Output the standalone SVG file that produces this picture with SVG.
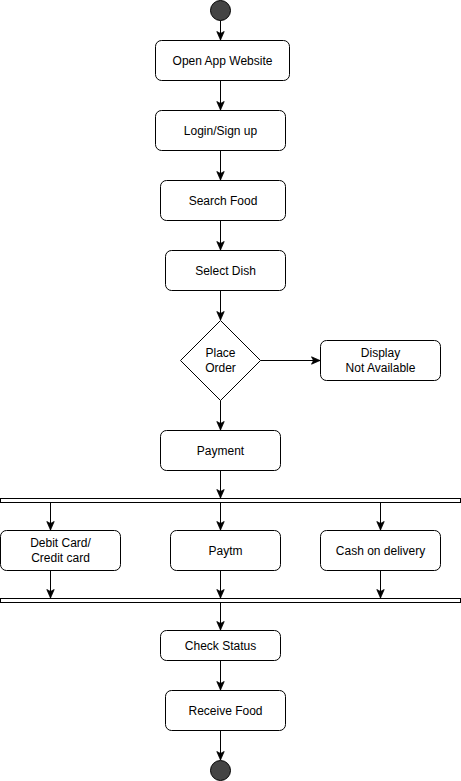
<svg xmlns="http://www.w3.org/2000/svg" width="461" height="781" viewBox="0 0 461 781">
<style>
.box{fill:#ffffff;stroke:#000000;stroke-width:1}
.lbl{font-family:"Liberation Sans",Arial,sans-serif;font-size:12px;fill:#000000;text-anchor:middle}
.edge{stroke:#000000;stroke-width:1;fill:none}
.dot{fill:#444444;stroke:#000000;stroke-width:1}
.bar{fill:#ffffff;stroke:#000000;stroke-width:1}
</style>
<defs>
<marker id="arr" markerUnits="userSpaceOnUse" markerWidth="10" markerHeight="10" viewBox="0 0 10 10" refX="9.5" refY="5" orient="auto">
<path d="M1,1.3 L9.5,5 L1,8.7 L3,5 z" fill="#000000" stroke="#000000" stroke-width="0.8"/>
</marker>
</defs>
<rect width="461" height="781" fill="#ffffff"/>
<g id="start"><circle class="dot" cx="220.5" cy="10.5" r="10"/></g>
<g id="open"><rect class="box" x="155.5" y="40.5" width="134" height="40" rx="6"/><text class="lbl" x="222.5" y="64.5">Open App Website</text></g>
<g id="login"><rect class="box" x="155.5" y="110.5" width="130" height="40" rx="6"/><text class="lbl" x="220.5" y="134.5">Login/Sign up</text></g>
<g id="search"><rect class="box" x="160.5" y="180.5" width="125" height="40" rx="6"/><text class="lbl" x="223" y="204.5">Search Food</text></g>
<g id="select"><rect class="box" x="165.5" y="250.5" width="120" height="40" rx="6"/><text class="lbl" x="225.5" y="274.5">Select Dish</text></g>
<g id="place"><polygon class="box" points="220.5,320.5 260.5,360.5 220.5,400.5 180.5,360.5"/><text class="lbl" x="220.5" y="357">Place</text><text class="lbl" x="220.5" y="372">Order</text></g>
<g id="display"><rect class="box" x="320.5" y="340.5" width="120" height="40" rx="6"/><text class="lbl" x="380.5" y="357">Display</text><text class="lbl" x="380.5" y="372">Not Available</text></g>
<g id="payment"><rect class="box" x="160.5" y="430.5" width="120" height="40" rx="6"/><text class="lbl" x="220.5" y="454.5">Payment</text></g>
<g id="fork"><rect class="bar" x="0.5" y="498.5" width="460" height="4"/></g>
<g id="debit"><rect class="box" x="0.5" y="530.5" width="120" height="40" rx="6"/><text class="lbl" x="60.5" y="547">Debit Card/</text><text class="lbl" x="60.5" y="562">Credit card</text></g>
<g id="paytm"><rect class="box" x="170.5" y="530.5" width="110" height="40" rx="6"/><text class="lbl" x="225.5" y="554.5">Paytm</text></g>
<g id="cash"><rect class="box" x="320.5" y="530.5" width="120" height="40" rx="6"/><text class="lbl" x="380.5" y="554.5">Cash on delivery</text></g>
<g id="join"><rect class="bar" x="0.5" y="598.5" width="460" height="4"/></g>
<g id="check"><rect class="box" x="160.5" y="630.5" width="120" height="30" rx="6"/><text class="lbl" x="220.5" y="649.5">Check Status</text></g>
<g id="receive"><rect class="box" x="165.5" y="690.5" width="120" height="40" rx="6"/><text class="lbl" x="225.5" y="714.5">Receive Food</text></g>
<g id="end"><circle class="dot" cx="220.5" cy="770.5" r="10"/></g>
<g id="connectors">
<line class="edge" x1="220.5" y1="20.5" x2="220.5" y2="40" marker-end="url(#arr)"/>
<line class="edge" x1="220.5" y1="80.5" x2="220.5" y2="110" marker-end="url(#arr)"/>
<line class="edge" x1="220.5" y1="150.5" x2="220.5" y2="180" marker-end="url(#arr)"/>
<line class="edge" x1="220.5" y1="220.5" x2="220.5" y2="250" marker-end="url(#arr)"/>
<line class="edge" x1="220.5" y1="290.5" x2="220.5" y2="320" marker-end="url(#arr)"/>
<line class="edge" x1="260.5" y1="360.5" x2="320" y2="360.5" marker-end="url(#arr)"/>
<line class="edge" x1="220.5" y1="400.5" x2="220.5" y2="430" marker-end="url(#arr)"/>
<line class="edge" x1="220.5" y1="470.5" x2="220.5" y2="498" marker-end="url(#arr)"/>
<line class="edge" x1="50.5" y1="502.5" x2="50.5" y2="530" marker-end="url(#arr)"/>
<line class="edge" x1="220.5" y1="502.5" x2="220.5" y2="530" marker-end="url(#arr)"/>
<line class="edge" x1="380.5" y1="502.5" x2="380.5" y2="530" marker-end="url(#arr)"/>
<line class="edge" x1="50.5" y1="570.5" x2="50.5" y2="598" marker-end="url(#arr)"/>
<line class="edge" x1="220.5" y1="570.5" x2="220.5" y2="598" marker-end="url(#arr)"/>
<line class="edge" x1="380.5" y1="570.5" x2="380.5" y2="598" marker-end="url(#arr)"/>
<line class="edge" x1="220.5" y1="602.5" x2="220.5" y2="630" marker-end="url(#arr)"/>
<line class="edge" x1="220.5" y1="660.5" x2="220.5" y2="690" marker-end="url(#arr)"/>
<line class="edge" x1="220.5" y1="730.5" x2="220.5" y2="760" marker-end="url(#arr)"/>
</g>
</svg>
